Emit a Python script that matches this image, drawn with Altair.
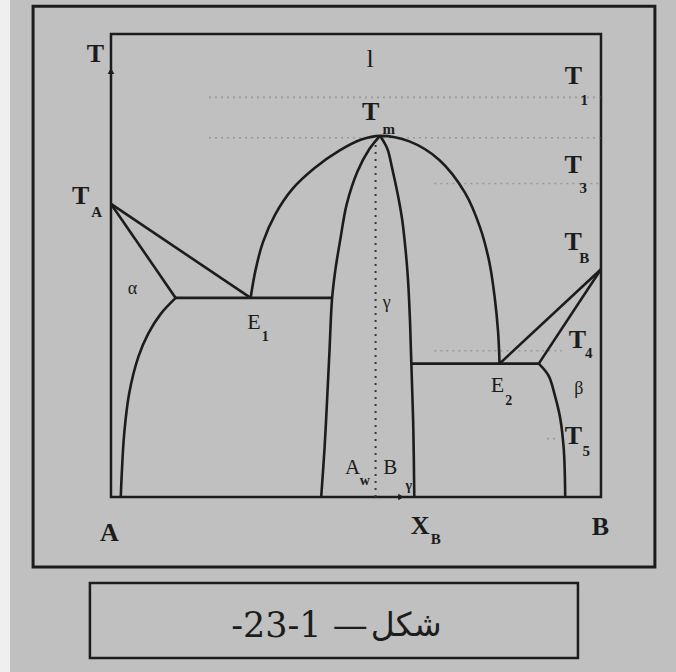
import altair as alt
import pandas as pd

# Binary A-B phase diagram with a congruently melting intermediate phase (gamma).
# Composition: mole % B (0 = pure A, 100 = pure B); temperature in relative units (0..100).

T_A = 63.3     # melting point of A
T_B = 49.2     # melting point of B
T_E1 = 43.0    # eutectic E1
T_E2 = 28.8    # eutectic E2

# alpha solvus (from the E1 isotherm down)
alpha_solvus_x = [13.2, 10.2, 7.6, 5.6, 3.7, 2.7, 2.2, 2.0]
alpha_solvus_t = [43.0, 39.6, 35.3, 30.3, 22.3, 13.7, 5.0, 0.0]

# liquidus dome of gamma, E1 -> maximum -> E2
dome_x = [28.5, 29.5, 31.0, 33.5, 37.0, 41.5, 46.6, 51.1, 54.9, 60.9, 67.0, 72.2, 75.3, 77.2, 78.3, 79.0, 79.3]
dome_t = [43.0, 49.0, 55.0, 61.0, 66.5, 71.0, 74.8, 77.2, 78.0, 76.8, 72.8, 65.8, 58.3, 50.8, 43.2, 35.7, 28.8]

# gamma phase boundaries (A-rich and B-rich side)
gamma_left_x = [54.9, 52.7, 50.3, 48.1, 46.8, 45.8, 45.1, 44.6, 44.1, 43.6, 42.9]
gamma_left_t = [78.0, 75.1, 70.3, 63.2, 55.6, 49.1, 42.6, 31.7, 20.9, 10.8, 0.0]
gamma_right_x = [54.9, 56.4, 57.4, 58.5, 59.4, 60.1, 60.6, 61.0, 61.3, 61.7, 61.9]
gamma_right_t = [78.0, 75.2, 70.9, 65.5, 60.1, 53.6, 47.2, 38.6, 28.8, 14.8, 0.0]

# beta solvus (from the E2 isotherm down)
beta_solvus_x = [87.3, 89.3, 90.6, 91.7, 92.4, 92.6, 92.7]
beta_solvus_t = [28.8, 26.2, 21.9, 16.9, 10.4, 5.7, 0.0]

# straight boundaries: liquidus/solidus from the pure components, eutectic isotherms
seg_x1 = [0.0, 0.0, 13.2, 61.3, 100.0, 100.0]
seg_t1 = [T_A, T_A, T_E1, T_E2, T_B, T_B]
seg_x2 = [28.5, 13.2, 45.1, 87.3, 79.3, 87.3]
seg_t2 = [T_E1, T_E1, T_E1, T_E2, T_E2, T_E2]

# dotted isotherms T1, Tm, T3, T4, T5
iso_t = [86.3, 77.6, 67.7, 31.6, 12.6]
iso_from = [20.0, 20.0, 66.0, 66.0, 89.0]
iso_to = [100.0, 100.0, 100.0, 92.0, 91.2]

# dotted composition line through the gamma maximum
comp_x = [54.0]
comp_top = [76.0]

# labels: main letters and their subscripts
big_text = ["T", "T", "T", "T", "T", "T", "T", "T", "A", "B", "X"]
big_x = [-3.2, 53.0, 94.4, 94.3, 94.3, 95.2, 94.4, -6.2, -0.3, 99.9, 63.1]
big_t = [95.7, 83.1, 91.0, 71.6, 55.1, 33.8, 13.2, 65.0, -7.8, -6.5, -6.2]

sub_text = ["m", "1", "3", "B", "4", "5", "A", "B"]
sub_x = [56.7, 96.6, 96.4, 96.6, 97.5, 97.0, -2.9, 66.3]
sub_t = [79.5, 85.8, 66.8, 51.7, 31.0, 10.0, 61.5, -9.0]

mid_text = ["l", "E", "E", "A", "B"]
mid_x = [52.9, 29.2, 78.9, 49.3, 57.0]
mid_t = [94.6, 37.9, 24.2, 6.2, 6.3]
mid_size = [26, 22, 22, 21, 21]

small_text = ["1", "2", "w", "γ"]
small_x = [31.5, 81.2, 51.8, 60.8]
small_t = [34.5, 20.8, 3.4, 2.3]

greek_text = ["α", "β", "γ"]
greek_x = [4.4, 95.5, 56.3]
greek_t = [45.0, 23.4, 41.9]

# figure caption, drawn as a number part and a word part so the order stays fixed
caption_number = "-23-1 —"
caption_word = "شكل"

# ------------------------------------------------------------------
X_DOMAIN = [-22.65, 115.31]
T_DOMAIN = [-37.8, 107.34]
xs = alt.Scale(domain=X_DOMAIN)
ys = alt.Scale(domain=T_DOMAIN)
INK = "#1c1c1c"
SERIF = "Liberation Serif"


def X(field):
    return alt.X(field, type="quantitative", scale=xs, axis=None)


def Y(field):
    return alt.Y(field, type="quantitative", scale=ys, axis=None)


curves = []
for name, xv, tv in [
    ("alpha_solvus", alpha_solvus_x, alpha_solvus_t),
    ("dome", dome_x, dome_t),
    ("gamma_left", gamma_left_x, gamma_left_t),
    ("gamma_right", gamma_right_x, gamma_right_t),
    ("beta_solvus", beta_solvus_x, beta_solvus_t),
]:
    for i, (a, b) in enumerate(zip(xv, tv)):
        curves.append({"curve": name, "i": i, "x": a, "t": b})
curves = pd.DataFrame(curves)

segments = pd.DataFrame({"x": seg_x1, "t": seg_t1, "x2": seg_x2, "t2": seg_t2})
isotherms = pd.DataFrame({"t": iso_t, "x": iso_from, "x2": iso_to})
comp_line = pd.DataFrame({"x": comp_x, "t": comp_top, "t0": [0.0]})

# page decorations: left paper edge, outer frame, caption box, diagram box
paper_edge = pd.DataFrame({"x": [X_DOMAIN[0]], "x2": [-20.6], "t": [T_DOMAIN[0]], "t2": [T_DOMAIN[1]]})
outer = pd.DataFrame({"x": [-15.9], "x2": [111.0], "t": [-15.1], "t2": [106.0]})
cap_box = pd.DataFrame({"x": [-4.3], "x2": [95.3], "t": [-34.8], "t2": [-18.6]})
box = pd.DataFrame({"x": [0.0], "x2": [100.0], "t": [0.0], "t2": [100.0]})

layers = []

layers.append(alt.Chart(paper_edge).mark_rect(color="#efefef").encode(
    x=X("x"), x2="x2", y=Y("t"), y2="t2"))

for df, w in [(outer, 3), (cap_box, 2.5), (box, 2.5)]:
    layers.append(alt.Chart(df).mark_rect(filled=False, stroke=INK, strokeWidth=w).encode(
        x=X("x"), x2="x2", y=Y("t"), y2="t2"))

layers.append(alt.Chart(pd.DataFrame({"x": [52.4], "t": [-27.9], "s": [caption_number]})).mark_text(
    font="DejaVu Serif", fontSize=35, color=INK, align="right", baseline="middle"
).encode(x=X("x"), y=Y("t"), text="s:N"))
layers.append(alt.Chart(pd.DataFrame({"x": [53.0], "t": [-27.9], "s": [caption_word]})).mark_text(
    font="DejaVu Sans", fontSize=33, color=INK, align="left", baseline="middle"
).encode(x=X("x"), y=Y("t"), text="s:N"))

layers.append(alt.Chart(isotherms).mark_rule(
    color="#6a6a6a", strokeWidth=1.6, strokeDash=[2, 4], opacity=0.45
).encode(x=X("x"), x2="x2", y=Y("t")))

layers.append(alt.Chart(comp_line).mark_rule(
    color="#3a3a3a", strokeWidth=2, strokeDash=[2, 5]
).encode(x=X("x"), y=Y("t"), y2="t0"))

layers.append(alt.Chart(curves).mark_line(
    color=INK, strokeWidth=2.6, interpolate="catmull-rom"
).encode(x=X("x"), y=Y("t"), detail="curve:N", order="i:Q"))

layers.append(alt.Chart(segments).mark_rule(color=INK, strokeWidth=2.6).encode(
    x=X("x"), y=Y("t"), x2="x2", y2="t2"))

# arrow tips on the temperature and composition axes
layers.append(alt.Chart(pd.DataFrame({"x": [0.0], "t": [92.0]})).mark_point(
    shape="triangle-up", filled=True, size=45, color=INK, opacity=1).encode(x=X("x"), y=Y("t")))
layers.append(alt.Chart(pd.DataFrame({"x": [59.2], "t": [0.0]})).mark_point(
    shape="triangle-right", filled=True, size=45, color=INK, opacity=1).encode(x=X("x"), y=Y("t")))

big = pd.DataFrame({"s": big_text, "x": big_x, "t": big_t})
layers.append(alt.Chart(big).mark_text(
    font=SERIF, fontSize=26, fontWeight="bold", color=INK, align="center", baseline="middle"
).encode(x=X("x"), y=Y("t"), text="s:N"))

sub = pd.DataFrame({"s": sub_text, "x": sub_x, "t": sub_t})
layers.append(alt.Chart(sub).mark_text(
    font=SERIF, fontSize=15, fontWeight="bold", color=INK, align="center", baseline="middle"
).encode(x=X("x"), y=Y("t"), text="s:N"))

mid = pd.DataFrame({"s": mid_text, "x": mid_x, "t": mid_t, "size": mid_size})
layers.append(alt.Chart(mid).mark_text(
    font=SERIF, color=INK, align="center", baseline="middle"
).encode(x=X("x"), y=Y("t"), text="s:N", size=alt.Size("size:Q", scale=None)))

small = pd.DataFrame({"s": small_text, "x": small_x, "t": small_t})
layers.append(alt.Chart(small).mark_text(
    font=SERIF, fontSize=14, fontWeight="bold", color=INK, align="center", baseline="middle"
).encode(x=X("x"), y=Y("t"), text="s:N"))

greek = pd.DataFrame({"s": greek_text, "x": greek_x, "t": greek_t})
layers.append(alt.Chart(greek).mark_text(
    font=SERIF, fontSize=18, color=INK, align="center", baseline="middle"
).encode(x=X("x"), y=Y("t"), text="s:N"))

chart = alt.layer(*layers).properties(
    width=676, height=672, padding=0, autosize="none", background="#c0c0c0"
).configure_view(stroke=None)

chart.save("out.html", embed_options={"renderer": "svg", "actions": False})
